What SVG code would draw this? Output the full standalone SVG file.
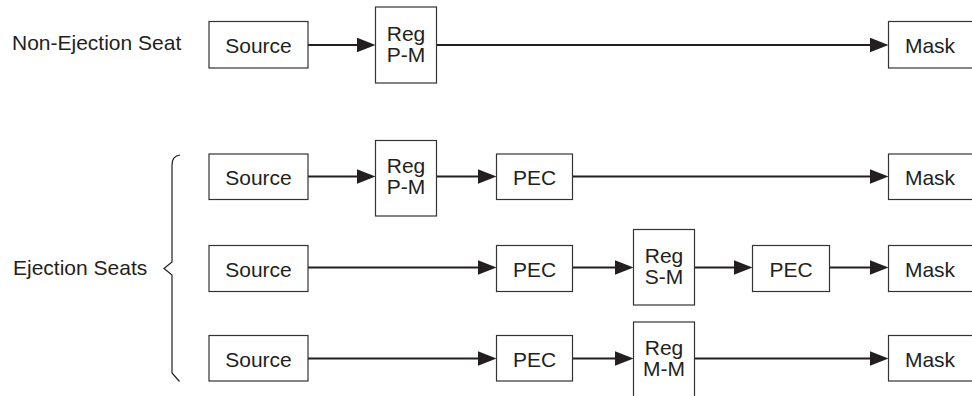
<svg xmlns="http://www.w3.org/2000/svg" width="972" height="396" viewBox="0 0 972 396">
<style>
  .box{fill:#fff;stroke:#333;stroke-width:1.2}
  .t{font-family:"Liberation Sans",Arial,sans-serif;font-size:21px;fill:#231f20;text-anchor:middle}
  .lbl{font-family:"Liberation Sans",Arial,sans-serif;font-size:21px;fill:#231f20}
  .c{stroke:#231f20;stroke-width:2;fill:none}
  .brace{stroke:#231f20;stroke-width:1.2;fill:none}
</style>
<defs>
  <marker id="arr" viewBox="0 0 19 15" refX="9" refY="7.5" markerWidth="19" markerHeight="15" markerUnits="userSpaceOnUse" orient="auto">
    <path d="M0,0 L19,7.5 L0,15 z" fill="#231f20"/>
  </marker>
</defs>
<rect width="972" height="396" fill="#fff"/>

<text class="lbl" x="12" y="50">Non-Ejection Seat</text>
<text class="lbl" x="13" y="275">Ejection Seats</text>
<path class="brace" d="M180,155 Q172,156 172,165 L172,262 L164,268.5 L172,275 L172,373 L179.5,381.5"/>

<g id="connectors">
  <line class="c" x1="308" y1="45" x2="365.5" y2="45" marker-end="url(#arr)"/>
  <line class="c" x1="436.5" y1="45" x2="878.5" y2="45" marker-end="url(#arr)"/>

  <line class="c" x1="308" y1="176.5" x2="365.5" y2="176.5" marker-end="url(#arr)"/>
  <line class="c" x1="436.5" y1="176.5" x2="486.5" y2="176.5" marker-end="url(#arr)"/>
  <line class="c" x1="572.5" y1="176.5" x2="878.5" y2="176.5" marker-end="url(#arr)"/>

  <line class="c" x1="308" y1="267.5" x2="486.5" y2="267.5" marker-end="url(#arr)"/>
  <line class="c" x1="572.5" y1="267.5" x2="623.5" y2="267.5" marker-end="url(#arr)"/>
  <line class="c" x1="694.5" y1="267.5" x2="742.5" y2="267.5" marker-end="url(#arr)"/>
  <line class="c" x1="829.5" y1="267.5" x2="878.5" y2="267.5" marker-end="url(#arr)"/>

  <line class="c" x1="308" y1="358.5" x2="486.5" y2="358.5" marker-end="url(#arr)"/>
  <line class="c" x1="572.5" y1="358.5" x2="623.5" y2="358.5" marker-end="url(#arr)"/>
  <line class="c" x1="694.5" y1="358.5" x2="878.5" y2="358.5" marker-end="url(#arr)"/>
</g>

<!-- Row 1 -->
<g id="r1-source"><rect class="box" x="209" y="21.5" width="99" height="46.5"/><text class="t" x="258.5" y="53">Source</text></g>
<g id="r1-reg"><rect class="box" x="375.5" y="7" width="61" height="76"/><text class="t" x="406" y="40.5">Reg</text><text class="t" x="406" y="61.5">P-M</text></g>
<g id="r1-mask"><rect class="box" x="888.5" y="21.5" width="100" height="46.5"/><text class="t" x="930" y="53">Mask</text></g>

<!-- Row 2 -->
<g id="r2-source"><rect class="box" x="209" y="154" width="99" height="45.5"/><text class="t" x="258.5" y="185">Source</text></g>
<g id="r2-reg"><rect class="box" x="375.5" y="140.5" width="61" height="75.5"/><text class="t" x="406" y="172.5">Reg</text><text class="t" x="406" y="193.5">P-M</text></g>
<g id="r2-pec"><rect class="box" x="496.5" y="154" width="76" height="45.5"/><text class="t" x="534.5" y="185">PEC</text></g>
<g id="r2-mask"><rect class="box" x="888.5" y="154" width="100" height="45.5"/><text class="t" x="930" y="185">Mask</text></g>

<!-- Row 3 -->
<g id="r3-source"><rect class="box" x="209" y="245.5" width="99" height="46"/><text class="t" x="258.5" y="276.5">Source</text></g>
<g id="r3-pec1"><rect class="box" x="496.5" y="245.5" width="76" height="46"/><text class="t" x="534.5" y="276.5">PEC</text></g>
<g id="r3-reg"><rect class="box" x="633.5" y="229.5" width="61" height="75.5"/><text class="t" x="664" y="262.5">Reg</text><text class="t" x="664" y="283.5">S-M</text></g>
<g id="r3-pec2"><rect class="box" x="752.5" y="245.5" width="77" height="46"/><text class="t" x="791" y="276.5">PEC</text></g>
<g id="r3-mask"><rect class="box" x="888.5" y="245.5" width="100" height="46"/><text class="t" x="930" y="276.5">Mask</text></g>

<!-- Row 4 -->
<g id="r4-source"><rect class="box" x="209" y="335.5" width="99" height="45.5"/><text class="t" x="258.5" y="367">Source</text></g>
<g id="r4-pec"><rect class="box" x="496.5" y="335.5" width="76" height="45.5"/><text class="t" x="534.5" y="367">PEC</text></g>
<g id="r4-reg"><rect class="box" x="633.5" y="322" width="61" height="80"/><text class="t" x="664" y="355">Reg</text><text class="t" x="664" y="376">M-M</text></g>
<g id="r4-mask"><rect class="box" x="888.5" y="335.5" width="100" height="45.5"/><text class="t" x="930" y="367">Mask</text></g>
</svg>
